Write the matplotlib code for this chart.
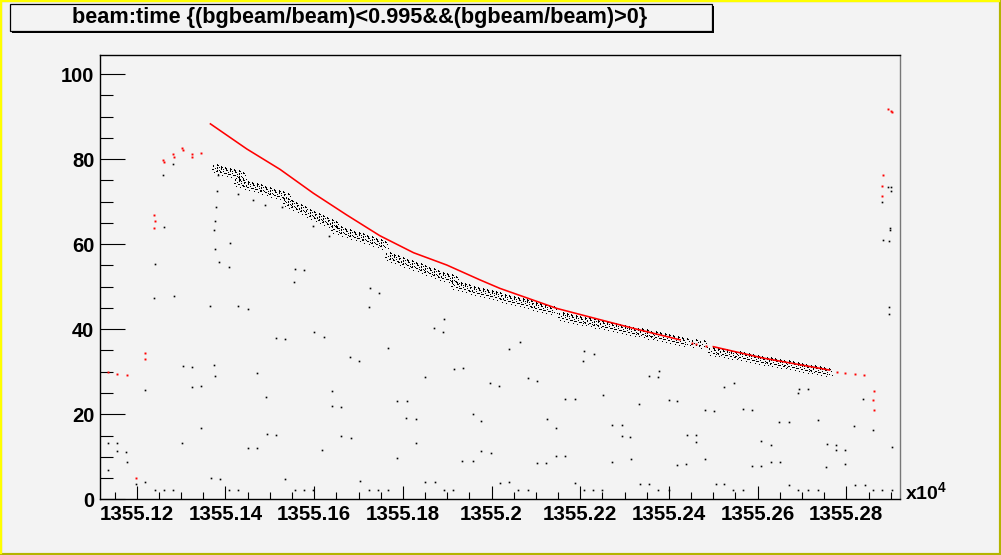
import matplotlib
matplotlib.use("Agg")
import matplotlib.pyplot as plt
from matplotlib.path import Path
from matplotlib.patches import Rectangle
from matplotlib.ticker import MultipleLocator

plt.rcParams['font.family'] = ['Liberation Sans', 'DejaVu Sans']
plt.rcParams['font.weight'] = 'bold'
plt.rcParams['mathtext.fontset'] = 'custom'
plt.rcParams['mathtext.rm'] = 'Liberation Sans:bold'
plt.rcParams['mathtext.bf'] = 'Liberation Sans:bold'
plt.rcParams['mathtext.it'] = 'Liberation Sans:bold'

title = "beam:time {(bgbeam/beam)<0.995&&(bgbeam/beam)>0}"
x_ticks = [1355.12, 1355.14, 1355.16, 1355.18, 1355.20, 1355.22, 1355.24, 1355.26, 1355.28]
x_labels = ["1355.12", "1355.14", "1355.16", "1355.18", "1355.2",
            "1355.22", "1355.24", "1355.26", "1355.28"]
y_ticks = [0, 20, 40, 60, 80, 100]
x_range = (1355.1117, 1355.2921)
y_range = (0, 104.5)

# red: main curve (two pieces) and loose red dots
red1_x = [1355.1366, 1355.1448, 1355.1523, 1355.1598, 1355.1673, 1355.1748, 1355.1824,
          1355.1899, 1355.1974, 1355.2019, 1355.2147, 1355.2320, 1355.2425]
red1_y = [88.3, 82.4, 77.6, 72.0, 66.9, 62.0, 58.0, 55.1, 51.6, 49.6, 44.9, 40.2, 37.5]
red2_x = [1355.2500, 1355.2613, 1355.2762]
red2_y = [35.9, 33.2, 30.4]
red_dots_x = [1355.2451, 1355.2461, 1355.2484, 1355.2778, 1355.2798, 1355.2819, 1355.2840,
              1355.2863, 1355.2861, 1355.2862, 1355.2895, 1355.2900, 1355.2904,
              1355.2883, 1355.2881, 1355.2881,
              1355.1239, 1355.1241, 1355.1239, 1355.1260, 1355.1261, 1355.1282, 1355.1284,
              1355.1303, 1355.1305, 1355.1325, 1355.1325, 1355.1345,
              1355.1218, 1355.1218, 1355.1135, 1355.1156, 1355.1177, 1355.1198]
red_dots_y = [36.8, 36.5, 36.1, 30.0, 29.8, 29.4, 29.2,
              25.4, 23.3, 20.9, 91.8, 91.4, 91.1,
              76.2, 73.6, 71.3,
              66.8, 65.4, 63.8, 79.8, 79.4, 81.2, 80.5,
              82.6, 82.1, 81.2, 80.5, 81.4,
              34.4, 32.9, 29.9, 29.4, 29.2, 4.9]

# black: dense band under the red curve
band_x = [1355.138, 1355.139, 1355.140, 1355.141, 1355.142, 1355.143, 1355.144,
          1355.143, 1355.144, 1355.145, 1355.146, 1355.147, 1355.148, 1355.149, 1355.150,
          1355.151, 1355.152, 1355.153, 1355.154,
          1355.154, 1355.155, 1355.156, 1355.157, 1355.158, 1355.159, 1355.160, 1355.161,
          1355.162, 1355.163, 1355.164, 1355.165,
          1355.165, 1355.166, 1355.167, 1355.168, 1355.169, 1355.170, 1355.171, 1355.172,
          1355.173, 1355.174, 1355.175, 1355.176,
          1355.177, 1355.178, 1355.179, 1355.180, 1355.181, 1355.182, 1355.183, 1355.184,
          1355.185, 1355.186, 1355.187, 1355.188, 1355.189, 1355.190, 1355.191, 1355.192,
          1355.192, 1355.193, 1355.194, 1355.195, 1355.196, 1355.197, 1355.198, 1355.199,
          1355.200, 1355.201, 1355.202, 1355.203, 1355.204, 1355.205, 1355.206, 1355.207,
          1355.208, 1355.209, 1355.210, 1355.211, 1355.212, 1355.213, 1355.214,
          1355.216, 1355.217, 1355.218, 1355.219, 1355.220, 1355.221, 1355.222, 1355.223,
          1355.224, 1355.225, 1355.226, 1355.227, 1355.228, 1355.229, 1355.230, 1355.231,
          1355.232, 1355.233, 1355.234, 1355.235, 1355.236, 1355.237, 1355.238, 1355.239,
          1355.240, 1355.241, 1355.242, 1355.243, 1355.244, 1355.246, 1355.248,
          1355.250, 1355.251, 1355.252, 1355.253, 1355.254, 1355.255, 1355.256, 1355.257,
          1355.258, 1355.259, 1355.260, 1355.261, 1355.262, 1355.263, 1355.264, 1355.265,
          1355.266, 1355.267, 1355.268, 1355.269, 1355.270, 1355.271, 1355.272, 1355.273,
          1355.274, 1355.275, 1355.276]
band_y = [77.6, 77.3, 77.0, 76.7, 76.5, 76.2, 75.9,
          74.5, 74.2, 73.8, 73.5, 73.2, 72.9, 72.6, 72.2,
          71.9, 71.6, 71.3, 70.9,
          69.7, 69.2, 68.7, 68.2, 67.7, 67.2, 66.7, 66.2,
          65.7, 65.2, 64.7, 64.2,
          63.4, 63.1, 62.7, 62.4, 62.0, 61.7, 61.4, 61.0,
          60.7, 60.3, 60.0, 59.6,
          56.9, 56.5, 56.2, 55.8, 55.4, 55.0, 54.7, 54.3,
          53.9, 53.5, 53.2, 52.8, 52.4, 52.0, 51.7, 51.3,
          50.2, 49.9, 49.6, 49.4, 49.1, 48.8, 48.6, 48.3,
          48.0, 47.8, 47.5, 47.2, 46.9, 46.7, 46.4, 46.1,
          45.9, 45.6, 45.3, 45.1, 44.8, 44.5, 44.3,
          42.9, 42.7, 42.4, 42.2, 42.0, 41.8, 41.6, 41.4,
          41.1, 40.9, 40.7, 40.5, 40.3, 40.1, 39.8, 39.6,
          39.4, 39.2, 39.0, 38.8, 38.5, 38.3, 38.1, 37.9,
          37.7, 37.4, 37.2, 37.0, 36.8, 36.6, 36.4,
          34.7, 34.5, 34.3, 34.1, 33.9, 33.8, 33.6, 33.4,
          33.2, 33.0, 32.8, 32.6, 32.4, 32.2, 32.1, 31.9,
          31.7, 31.5, 31.3, 31.1, 30.9, 30.7, 30.5, 30.4,
          30.2, 30.0, 29.8]

# black: scattered single entries
black_x = [1355.1260, 1355.1282, 1355.1261, 1355.1242, 1355.1382, 1355.1380, 1355.1379,
           1355.1376, 1355.1375, 1355.1376, 1355.1386, 1355.1409, 1355.1411, 1355.1429,
           1355.1463, 1355.1490, 1355.1528, 1355.1557, 1355.1578, 1355.1597, 1355.1634,
           1355.1555, 1355.1239, 1355.1284, 1355.1366, 1355.1429, 1355.1451, 1355.1724,
           1355.1515, 1355.1535, 1355.1600, 1355.1621, 1355.1681, 1355.1702, 1355.1305,
           1355.1325, 1355.1375, 1355.1377, 1355.1472, 1355.1219, 1355.1325, 1355.1345,
           1355.1492, 1355.1641, 1355.1641, 1355.1661, 1355.1345, 1355.1494, 1355.1515,
           1355.1661, 1355.1684, 1355.1136, 1355.1156, 1355.1303, 1355.1156, 1355.1176,
           1355.1451, 1355.1472, 1355.1618, 1355.1179, 1355.1136, 1355.1219, 1355.1199,
           1355.1368, 1355.1388, 1355.1535, 1355.1704,
           1355.1242, 1355.1262, 1355.1282, 1355.1409, 1355.1429, 1355.1557, 1355.1578,
           1355.1598, 1355.1724,
           1355.1726, 1355.1747, 1355.1893, 1355.1871, 1355.1891, 1355.2063, 1355.2040,
           1355.1767, 1355.2209, 1355.2232, 1355.2207, 1355.1916, 1355.1936, 1355.1851,
           1355.2083, 1355.2103, 1355.1997, 1355.2017, 1355.2252, 1355.2166, 1355.2187,
           1355.1787, 1355.1810, 1355.2333, 1355.1957, 1355.1977, 1355.1808, 1355.1830,
           1355.2126, 1355.2272, 1355.2293, 1355.2146, 1355.2293, 1355.2313, 1355.1830,
           1355.1977, 1355.1999, 1355.1787, 1355.2146, 1355.2166, 1355.2315, 1355.1934,
           1355.1957, 1355.2103, 1355.2123, 1355.2272, 1355.1851, 1355.1873, 1355.2020,
           1355.2040, 1355.2189,
           1355.1745, 1355.1767, 1355.1893, 1355.1914, 1355.2060, 1355.2083, 1355.2209,
           1355.2229, 1355.2250,
           1355.2356, 1355.2376, 1355.2378, 1355.2523, 1355.2547, 1355.2694, 1355.2692,
           1355.2714, 1355.2399, 1355.2419, 1355.2482, 1355.2502, 1355.2568, 1355.2588,
           1355.2838, 1355.2649, 1355.2671, 1355.2735, 1355.2818, 1355.2861, 1355.2441,
           1355.2462, 1355.2462, 1355.2608, 1355.2629, 1355.2757, 1355.2777, 1355.2777,
           1355.2798, 1355.2904, 1355.2482, 1355.2419, 1355.2439, 1355.2588, 1355.2608,
           1355.2631, 1355.2651, 1355.2755, 1355.2798, 1355.2335, 1355.2356, 1355.2505,
           1355.2525, 1355.2671, 1355.2820, 1355.2841,
           1355.2376, 1355.2399, 1355.2545, 1355.2566, 1355.2692, 1355.2714, 1355.2735,
           1355.2861, 1355.2881, 1355.2904,
           1355.2897, 1355.2897, 1355.2895, 1355.2901, 1355.2901, 1355.2881, 1355.2899,
           1355.2899, 1355.2883, 1355.2897]
black_y = [76.2, 78.8, 64.0, 55.3, 76.2, 72.5, 68.7,
           65.4, 63.3, 58.8, 55.8, 54.6, 60.2, 71.8,
           70.4, 69.2, 68.7, 54.1, 53.9, 64.2, 61.9,
           51.1, 47.3, 47.8, 45.4, 45.4, 44.8, 45.2,
           37.9, 37.7, 39.3, 38.2, 33.4, 32.5, 31.3,
           31.1, 31.5, 28.9, 29.6, 25.6, 26.4, 26.6,
           24.0, 25.4, 21.9, 21.6, 16.7, 15.3, 15.1,
           14.8, 14.4, 13.2, 13.2, 13.2, 11.3, 11.1,
           12.0, 12.0, 11.5, 8.7, 6.8, 4.0, 3.5,
           4.9, 4.7, 4.7, 4.2,
           2.1, 2.1, 2.1, 2.1, 2.1, 2.1, 2.1,
           2.1, 2.1,
           49.6, 48.5, 42.4, 40.2, 39.3, 36.9, 35.3,
           35.5, 34.8, 34.1, 32.5, 30.6, 30.8, 28.7,
           28.5, 27.8, 27.3, 26.6, 24.5, 23.5, 23.5,
           23.1, 23.1, 22.4, 20.0, 18.4, 19.1, 18.8,
           18.8, 17.4, 17.4, 16.7, 14.8, 14.6, 13.2,
           11.3, 10.8, 9.6, 10.1, 10.1, 9.4, 8.9,
           8.9, 8.5, 8.5, 8.7, 4.0, 4.0, 3.8,
           4.0, 3.8,
           2.1, 2.1, 2.1, 2.1, 2.1, 2.1, 2.1,
           2.1, 2.1,
           28.9, 28.7, 30.1, 26.4, 27.3, 25.9, 24.9,
           25.9, 23.3, 23.1, 20.9, 20.7, 21.2, 20.9,
           23.5, 18.1, 18.1, 18.6, 17.2, 16.2, 15.1,
           15.1, 13.4, 13.6, 12.7, 12.9, 12.7, 11.5,
           11.5, 12.2, 9.4, 8.0, 8.2, 7.8, 7.8,
           8.7, 8.7, 7.5, 8.2, 3.5, 3.5, 3.5,
           3.5, 3.3, 3.3, 3.3,
           2.1, 2.1, 2.1, 2.1, 2.1, 2.1, 2.1,
           2.1, 2.1, 2.1,
           45.2, 43.5, 73.4, 73.4, 72.5, 69.9, 63.8,
           63.3, 60.9, 60.7]

# speckle marker for the dense band (a handful of 1px dots)
dots = [(-0.85, 0.75), (0.05, 0.95), (0.7, 0.35), (-0.35, 0.05), (0.85, -0.55),
        (-0.7, -0.8), (0.2, -0.45), (-0.95, -0.15), (0.45, 0.8)]
verts, codes = [], []
h = 0.15
for cx, cy in dots:
    verts += [(cx - h, cy - h), (cx + h, cy - h), (cx + h, cy + h), (cx - h, cy + h), (cx - h, cy - h)]
    codes += [Path.MOVETO, Path.LINETO, Path.LINETO, Path.LINETO, Path.CLOSEPOLY]
speckle = Path(verts, codes)

bg = '#f3f3f3'
fig = plt.figure(figsize=(10.01, 5.55), dpi=100, facecolor=bg)
ax = fig.add_axes([100 / 1001, 55.7 / 555, 800 / 1001, 444.3 / 555])
ax.set_facecolor(bg)

ax.plot(band_x, band_y, linestyle='none', marker=speckle, markersize=6.5,
        color='black', markeredgewidth=0)
ax.plot(black_x, black_y, linestyle='none', marker='s', markersize=1.2,
        color='black', markeredgewidth=0)
ax.plot(red1_x, red1_y, color='red', lw=1.15)
ax.plot(red2_x, red2_y, color='red', lw=1.15)
ax.plot(red_dots_x, red_dots_y, linestyle='none', marker='s', markersize=1.4,
        color='red', markeredgewidth=0)

ax.set_xlim(*x_range)
ax.set_ylim(*y_range)
ax.set_xticks(x_ticks)
ax.set_xticklabels(x_labels)
ax.set_yticks(y_ticks)
ax.xaxis.set_minor_locator(MultipleLocator(0.005))
ax.yaxis.set_minor_locator(MultipleLocator(5))
ax.tick_params(axis='x', which='major', direction='in', length=9.4, width=0.8,
               labelsize=14.8, pad=4)
ax.tick_params(axis='x', which='minor', direction='in', length=5, width=0.8)
ax.tick_params(axis='y', which='major', direction='in', length=18, width=0.8,
               labelsize=14.5, pad=4)
ax.tick_params(axis='y', which='minor', direction='in', length=9, width=0.8)
for lab in ax.get_xticklabels() + ax.get_yticklabels():
    lab.set_fontweight('bold')
for s in ax.spines.values():
    s.set_linewidth(1.0)
ax.spines['right'].set_color('#777777')

fig.text(905 / 1001, 1 - 499 / 555, r'x10$^{4}$', fontsize=14, fontweight='bold',
         ha='left', va='baseline')

# title box with shadow
W, H = 1001, 555
fig.patches.append(Rectangle((12 / W, 1 - 33 / H), 702 / W, 27 / H, transform=fig.transFigure,
                             facecolor='black', edgecolor='none', zorder=1))
fig.patches.append(Rectangle((10 / W, 1 - 31 / H), 702 / W, 27 / H, transform=fig.transFigure,
                             facecolor=bg, edgecolor='black', lw=0.9, zorder=2))
fig.text(360 / W, 1 - 17.5 / H, title, fontsize=15.6, fontweight='bold',
         ha='center', va='center', zorder=3)

# canvas border
fig.patches.append(Rectangle((0, 0), 1, 1, transform=fig.transFigure, fill=False,
                             edgecolor='#b4b400', lw=3, zorder=5))
fig.lines.append(plt.Line2D([1 / W, 1 / W], [2 / H, 1], transform=fig.transFigure,
                            color='#ffff00', lw=1.6, zorder=6))
fig.lines.append(plt.Line2D([0, 1 - 2 / W], [1 - 1 / H, 1 - 1 / H], transform=fig.transFigure,
                            color='#ffff00', lw=1.6, zorder=6))

fig.savefig('out.png', dpi=100, facecolor=bg)
